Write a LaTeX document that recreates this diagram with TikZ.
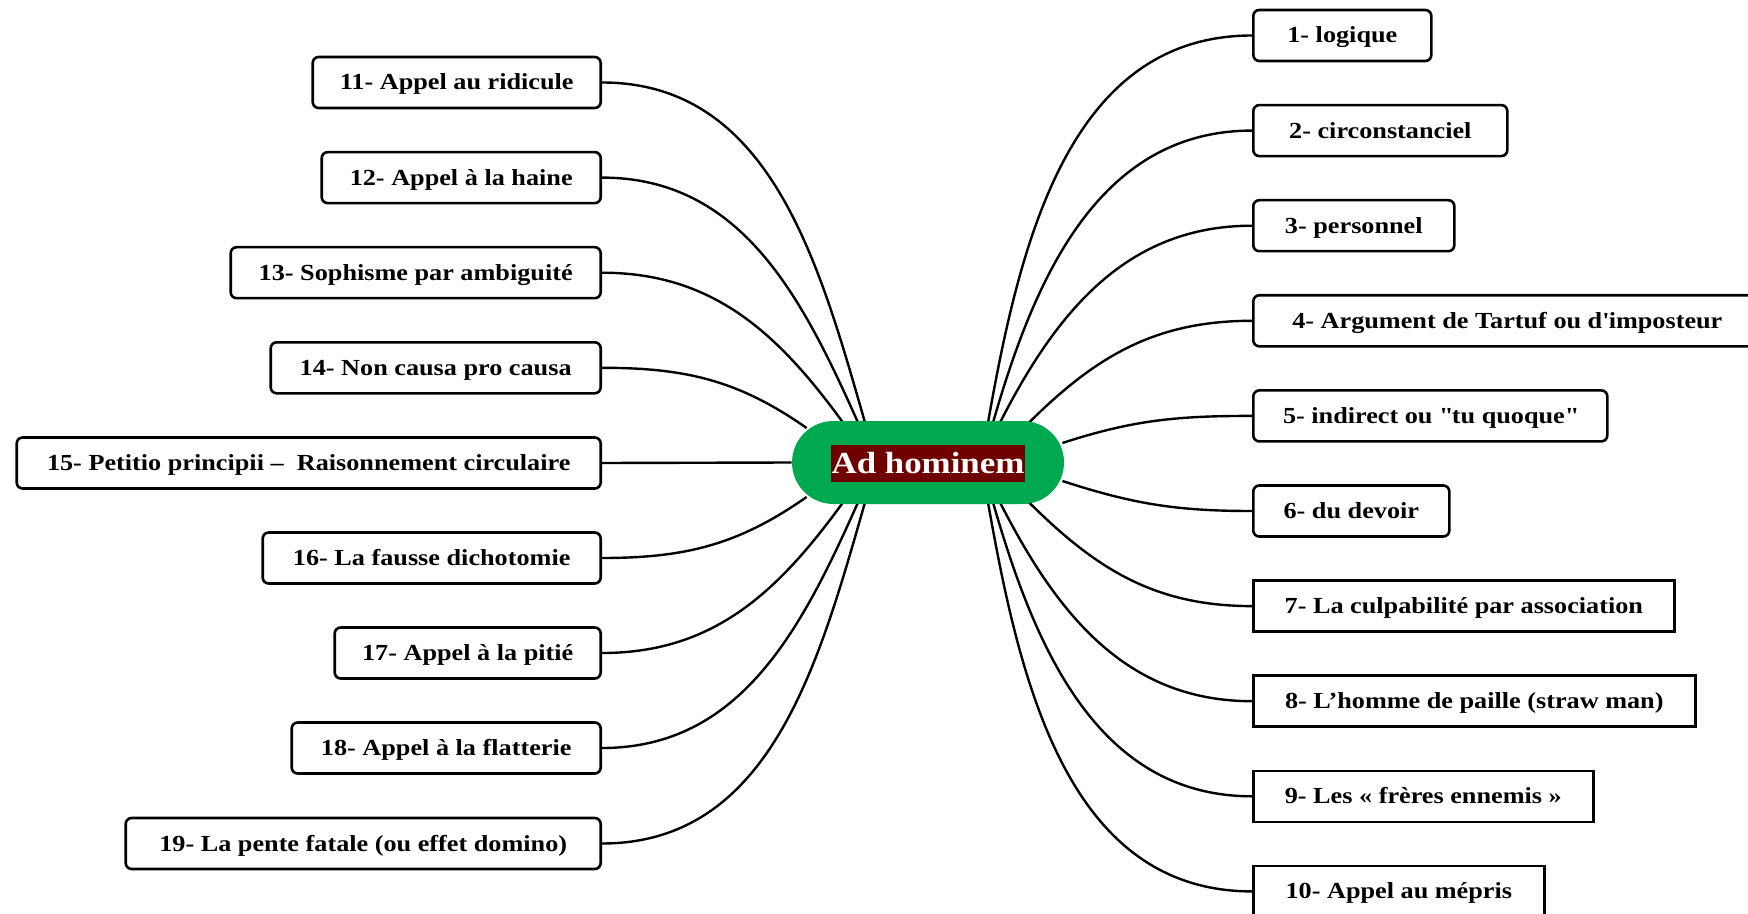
\documentclass[tikz,border=0pt]{standalone}
\usepackage{fontspec}
\setmainfont{Liberation Serif}[FakeStretch=1.14]
\definecolor{mmgreen}{RGB}{0,168,80}
\definecolor{mmred}{RGB}{112,0,0}
\pgfdeclarelayer{background}
\pgfsetlayers{background,main}
\begin{document}
\begin{tikzpicture}[x=0.5pt,y=0.5pt,
  leaf/.style={draw=black, line width=1.3pt, fill=white, rounded corners=3pt,
    minimum height=25.5pt, inner sep=0pt,
    font=\fontsize{11.5}{13}\selectfont\bfseries, text height=9.5pt, text depth=2pt},
  sq/.style={sharp corners},
  rleaf/.style={leaf, anchor=west},
  lleaf/.style={leaf, anchor=east},
  link/.style={line width=1.2pt, draw=black}]
\useasboundingbox (0,0) rectangle (1748,-914);

% central node
\node[minimum width=136pt, minimum height=41.5pt, rounded corners=20.7pt, fill=mmgreen, inner sep=0pt] (c) at (928,-462.5) {};
\node[fill=mmred, text=white, inner sep=0pt, minimum width=97pt, text height=14pt, text depth=4.5pt,
  font=\fontsize{15.3}{18}\selectfont\bfseries] (t) at (928,-463.5) {Ad hominem};

% right leaves
\node[rleaf, minimum width=89pt]  (r1)  at (1252,-35.5)  {1- logique};
\node[rleaf, minimum width=127pt] (r2)  at (1252,-130.6) {2- circonstanciel};
\node[rleaf, minimum width=100.5pt] (r3) at (1252,-225.7) {3- personnel};
\node[rleaf, minimum width=254pt] (r4)  at (1252,-320.8) {4- Argument de Tartuf ou d\textquotesingle imposteur};
\node[rleaf, minimum width=177pt] (r5)  at (1252,-415.9) {5- indirect ou \textquotedbl tu quoque\textquotedbl};
\node[rleaf, minimum width=98pt]  (r6)  at (1252,-511)   {6- du devoir};
\node[rleaf, sq, minimum width=210.5pt] (r7) at (1252,-606.1) {7- La culpabilité par association};
\node[rleaf, sq, minimum width=221pt] (r8) at (1252,-701.2) {8- L’homme de paille (straw man)};
\node[rleaf, sq, minimum width=170pt] (r9) at (1252,-796.3) {9- Les « frères ennemis »};
\node[rleaf, sq, minimum width=145.5pt] (r10) at (1252,-891.4) {10- Appel au mépris};

% left leaves
\node[lleaf, minimum width=144pt]  (l11) at (602,-82.5)  {11- Appel au ridicule};
\node[lleaf, minimum width=139.5pt] (l12) at (602,-177.6) {12- Appel à la haine};
\node[lleaf, minimum width=185pt]  (l13) at (602,-272.7) {13- Sophisme par ambiguité};
\node[lleaf, minimum width=165pt]  (l14) at (602,-367.8) {14- Non causa pro causa};
\node[lleaf, minimum width=292pt]  (l15) at (602,-463)   {15- Petitio principii –\ \ Raisonnement circulaire};
\node[lleaf, minimum width=169pt]  (l16) at (602,-558)   {16- La fausse dichotomie};
\node[lleaf, minimum width=133pt]  (l17) at (602,-653)   {17- Appel à la pitié};
\node[lleaf, minimum width=154.5pt] (l18) at (602,-748)  {18- Appel à la flatterie};
\node[lleaf, minimum width=237.5pt] (l19) at (602,-843.5) {19- La pente fatale (ou effet domino)};

\begin{pgfonlayer}{background}
% right connectors
\draw[link] ([xshift=30pt,yshift=-1pt]c.north)   to[out=80,in=180]  (r1.west);
\draw[link] ([xshift=32.5pt,yshift=-1pt]c.north) to[out=74,in=180]  (r2.west);
\draw[link] ([xshift=36pt,yshift=-1pt]c.north)   to[out=63,in=180]  (r3.west);
\draw[link] ([xshift=49.5pt,yshift=-2pt]c.north) to[out=45,in=180]  (r4.west);
\draw[link] ([xshift=-1pt,yshift=9.75pt]c.east)  to[out=18,in=180]  (r5.west);
\draw[link] ([xshift=-1pt,yshift=-9.25pt]c.east) to[out=-18,in=180] (r6.west);
\draw[link] ([xshift=49.5pt,yshift=2pt]c.south)  to[out=-45,in=180] (r7.west);
\draw[link] ([xshift=36pt,yshift=1pt]c.south)    to[out=-63,in=180] (r8.west);
\draw[link] ([xshift=32.5pt,yshift=1pt]c.south)  to[out=-74,in=180] (r9.west);
\draw[link] ([xshift=30pt,yshift=1pt]c.south)    to[out=-80,in=180] (r10.west);
% left connectors
\draw[link] ([xshift=-31.5pt,yshift=-1pt]c.north) to[out=106,in=0] (l11.east);
\draw[link] ([xshift=-35pt,yshift=-1pt]c.north)   to[out=114,in=0] (l12.east);
\draw[link] ([xshift=-42.5pt,yshift=-1pt]c.north) to[out=126,in=0] (l13.east);
\draw[link] ([xshift=7.5pt,yshift=17.25pt]c.west) to[out=145,in=0] (l14.east);
\draw[link] (c.west) -- (l15.east);
\draw[link] ([xshift=7.5pt,yshift=-17.25pt]c.west) to[out=215,in=0] (l16.east);
\draw[link] ([xshift=-42.5pt,yshift=1pt]c.south)  to[out=234,in=0] (l17.east);
\draw[link] ([xshift=-35pt,yshift=1pt]c.south)    to[out=246,in=0] (l18.east);
\draw[link] ([xshift=-31.5pt,yshift=1pt]c.south)  to[out=254,in=0] (l19.east);
\end{pgfonlayer}
\end{tikzpicture}
\end{document}
